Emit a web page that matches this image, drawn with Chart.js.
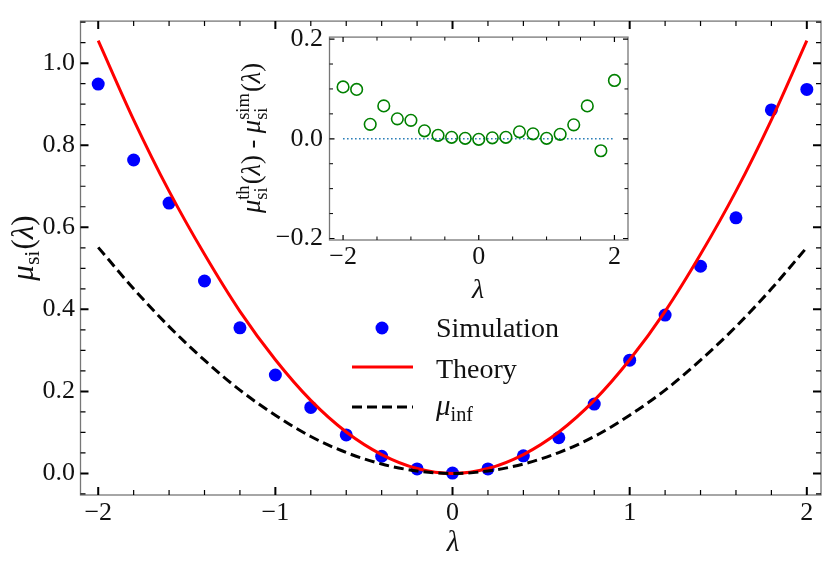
<!DOCTYPE html>
<html>
<head>
<meta charset="utf-8">
<script src="https://cdn.jsdelivr.net/npm/chart.js@4.4.0/dist/chart.umd.min.js"></script>
<style>
  body { margin: 0; background: #fff; }
  #wrap { position: relative; width: 830px; height: 564px; }
  #main { position: absolute; left: 0; top: 0; }
  #inset { position: absolute; left: 230px; top: 15px; }
</style>
</head>
<body>
<div id="wrap">
  <canvas id="main" width="830" height="564"></canvas>
  <canvas id="inset" width="410" height="290"></canvas>
</div>
<script>
// lambda values shared by every series
const lambdas = [-2, -1.8, -1.6, -1.4, -1.2, -1, -0.8, -0.6, -0.4, -0.2, 0, 0.2, 0.4, 0.6, 0.8, 1, 1.2, 1.4, 1.6, 1.8, 2];
// main plot series
const simulation = [0.949, 0.764, 0.659, 0.469, 0.355, 0.240, 0.161, 0.094, 0.042, 0.011, 0.001, 0.011, 0.043, 0.087, 0.169, 0.276, 0.386, 0.505, 0.623, 0.886, 0.936];
const theory = [1.055, 0.862, 0.688, 0.534, 0.395, 0.277, 0.178, 0.101, 0.046, 0.012, 0.000, 0.012, 0.046, 0.101, 0.178, 0.277, 0.395, 0.534, 0.688, 0.862, 1.055];
const muInf = [0.551, 0.450, 0.358, 0.276, 0.203, 0.142, 0.090, 0.051, 0.023, 0.006, 0.000, 0.006, 0.023, 0.051, 0.090, 0.142, 0.203, 0.276, 0.358, 0.450, 0.551];
// inset: theory minus simulation
const difference = [0.104, 0.099, 0.029, 0.066, 0.040, 0.037, 0.016, 0.007, 0.003, 0.001, -0.001, 0.002, 0.003, 0.014, 0.010, 0.001, 0.009, 0.028, 0.066, -0.024, 0.117];
const zeroLineX = [-2, 2];
const zeroLineY = [0, 0];

// tick values
const mainXTicks = [-2, -1, 0, 1, 2];
const mainYTicks = [0, 0.2, 0.4, 0.6, 0.8, 1.0];
const insetXTicks = [-2, 0, 2];
const insetYTicks = [-0.2, 0, 0.2];

const SERIF = '"Liberation Serif", "DejaVu Serif", serif';

function fmtNum(v, digits) {
  const s = Math.abs(v).toFixed(digits);
  return v < -1e-9 ? '\u2212' + s : s;
}

function minorTicks(step, lo, hi, majors) {
  const out = [];
  for (let i = Math.ceil(lo / step - 1e-6); i * step <= hi + 1e-9; i++) {
    const v = +(i * step).toFixed(6);
    if (!majors.some(m => Math.abs(m - v) < 1e-6)) out.push(v);
  }
  return out;
}

// draws text made of pieces: [text, 'i'|'r'] or [sub, 'sub', sup]
function piece(ctx, p, size, draw, x, y) {
  if (p[1] === 'sub') {
    const s = size * 0.7;
    ctx.font = s + 'px ' + SERIF;
    let w = ctx.measureText(p[0]).width;
    if (draw) ctx.fillText(p[0], x, y + size * (p[2] ? 0.26 : 0.2));
    if (p[2]) {
      w = Math.max(w, ctx.measureText(p[2]).width);
      if (draw) ctx.fillText(p[2], x, y - size * 0.42);
    }
    return w + size * 0.04;
  }
  ctx.font = (p[1] === 'i' ? 'italic ' : '') + size + 'px ' + SERIF;
  if (draw) ctx.fillText(p[0], x, y);
  return ctx.measureText(p[0]).width;
}

function drawMath(ctx, parts, x, y, size, align) {
  let w = 0;
  parts.forEach(p => { w += piece(ctx, p, size, false); });
  let cx = align === 'center' ? x - w / 2 : x;
  ctx.textAlign = 'left';
  ctx.textBaseline = 'alphabetic';
  parts.forEach(p => { cx += piece(ctx, p, size, true, cx, y); });
}

// frame + inward ticks on all four sides
const frameTicks = {
  id: 'frameTicks',
  beforeDraw(chart, args, opts) {
    const a = chart.chartArea, ctx = chart.ctx;
    ctx.save();
    ctx.fillStyle = '#fff';
    ctx.fillRect(a.left, a.top, a.right - a.left, a.bottom - a.top);
    ctx.restore();
  },
  afterDraw(chart, args, opts) {
    const a = chart.chartArea, ctx = chart.ctx;
    const x = chart.scales.x, y = chart.scales.y;
    ctx.save();
    ctx.strokeStyle = '#777';
    ctx.lineWidth = 1.3;
    ctx.strokeRect(a.left, a.top, a.right - a.left, a.bottom - a.top);
    ctx.strokeStyle = '#000';
    const xt = (vals, len, w) => {
      ctx.lineWidth = w;
      vals.forEach(v => {
        const px = x.getPixelForValue(v);
        ctx.beginPath();
        ctx.moveTo(px, a.bottom); ctx.lineTo(px, a.bottom - len);
        ctx.moveTo(px, a.top); ctx.lineTo(px, a.top + len);
        ctx.stroke();
      });
    };
    const yt = (vals, len, w) => {
      ctx.lineWidth = w;
      vals.forEach(v => {
        const py = y.getPixelForValue(v);
        ctx.beginPath();
        ctx.moveTo(a.left, py); ctx.lineTo(a.left + len, py);
        ctx.moveTo(a.right, py); ctx.lineTo(a.right - len, py);
        ctx.stroke();
      });
    };
    xt(opts.xMajor, opts.major, opts.majorW);
    xt(opts.xMinor, opts.minor, opts.minorW);
    yt(opts.yMajor, opts.major, opts.majorW);
    yt(opts.yMinor, opts.minor, opts.minorW);
    ctx.restore();
  }
};

// axis titles and legend of the main chart
const mainDecor = {
  id: 'mainDecor',
  afterDraw(chart) {
    const ctx = chart.ctx;
    ctx.save();
    ctx.fillStyle = '#111';
    // y title
    ctx.save();
    ctx.translate(33, 248);
    ctx.rotate(-Math.PI / 2);
    drawMath(ctx, [['μ', 'i'], ['si', 'sub'], ['(', 'r'], ['λ', 'i'], [')', 'r']], 0, 0, 31, 'center');
    ctx.restore();
    // x title
    drawMath(ctx, [['λ', 'i']], 453, 551, 29, 'center');

    // legend
    ctx.fillStyle = '#0000ff';
    ctx.beginPath();
    ctx.arc(382, 328, 6.5, 0, Math.PI * 2);
    ctx.fill();
    ctx.strokeStyle = '#ff0000';
    ctx.lineWidth = 3;
    ctx.beginPath();
    ctx.moveTo(352, 367); ctx.lineTo(413, 367);
    ctx.stroke();
    ctx.strokeStyle = '#000';
    ctx.setLineDash([10, 5]);
    ctx.beginPath();
    ctx.moveTo(352, 407); ctx.lineTo(413, 407);
    ctx.stroke();
    ctx.setLineDash([]);
    ctx.fillStyle = '#111';
    drawMath(ctx, [['Simulation', 'r']], 436, 337, 28, 'left');
    drawMath(ctx, [['Theory', 'r']], 436, 378, 28, 'left');
    drawMath(ctx, [['μ', 'i'], ['inf', 'sub']], 436, 415, 29, 'left');
    ctx.restore();
  }
};

const insetDecor = {
  id: 'insetDecor',
  afterDraw(chart) {
    const ctx = chart.ctx;
    ctx.save();
    ctx.fillStyle = '#111';
    ctx.save();
    ctx.translate(30, 123);
    ctx.rotate(-Math.PI / 2);
    drawMath(ctx, [['μ', 'i'], ['si', 'sub', 'th'], ['(', 'r'], ['λ', 'i'], [')', 'r'], [' - ', 'r'],
                   ['μ', 'i'], ['si', 'sub', 'sim'], ['(', 'r'], ['λ', 'i'], [')', 'r']], 0, 0, 26.5, 'center');
    ctx.restore();
    drawMath(ctx, [['λ', 'i']], 248, 283, 28, 'center');
    ctx.restore();
  }
};

function pts(xs, ys) {
  return xs.map((v, i) => ({ x: v, y: ys[i] }));
}

function tickFont(size) {
  return { family: SERIF, size: size };
}

new Chart(document.getElementById('main'), {
  type: 'line',
  data: {
    datasets: [
      {
        label: 'mu_inf',
        data: pts(lambdas, muInf),
        borderColor: '#000',
        borderWidth: 3,
        borderDash: [10, 5],
        pointRadius: 0,
        cubicInterpolationMode: 'monotone',
        order: 1
      },
      {
        label: 'Theory',
        data: pts(lambdas, theory),
        borderColor: '#ff0000',
        borderWidth: 3,
        pointRadius: 0,
        cubicInterpolationMode: 'monotone',
        order: 2
      },
      {
        label: 'Simulation',
        data: pts(lambdas, simulation),
        showLine: false,
        pointRadius: 6.5,
        pointBackgroundColor: '#0000ff',
        pointBorderWidth: 0,
        order: 3
      }
    ]
  },
  options: {
    responsive: false,
    animation: false,
    layout: { padding: { left: 0, right: 9, top: 5, bottom: 0 } },
    plugins: {
      legend: { display: false },
      tooltip: { enabled: false },
      frameTicks: {
        xMajor: mainXTicks, xMinor: minorTicks(0.2, -2.1, 2.08, mainXTicks),
        yMajor: mainYTicks, yMinor: minorTicks(0.05, -0.05, 1.1, mainYTicks),
        major: 8, majorW: 2, minor: 5, minorW: 1.2
      }
    },
    scales: {
      x: {
        type: 'linear',
        min: -2.10,
        max: 2.08,
        grid: { display: false, drawTicks: false },
        border: { display: false },
        afterBuildTicks: s => { s.ticks = mainXTicks.map(v => ({ value: v })); },
        afterFit: s => { s.height = 69; },
        ticks: { font: tickFont(26), color: '#111', padding: 3, maxRotation: 0, callback: v => fmtNum(v, 0) }
      },
      y: {
        min: -0.0525,
        max: 1.1025,
        grid: { display: false, drawTicks: false },
        border: { display: false },
        afterBuildTicks: s => { s.ticks = mainYTicks.map(v => ({ value: v })); },
        afterFit: s => { s.width = 80.5; },
        ticks: { font: tickFont(26), color: '#111', padding: 5.5, callback: v => fmtNum(v, 1) }
      }
    }
  },
  plugins: [frameTicks, mainDecor]
});

new Chart(document.getElementById('inset'), {
  type: 'line',
  data: {
    datasets: [
      {
        label: 'difference',
        data: pts(lambdas, difference),
        showLine: false,
        pointRadius: 5.8,
        pointBackgroundColor: 'rgba(0,0,0,0)',
        pointBorderColor: '#008000',
        pointBorderWidth: 1.6,
        order: 1
      },
      {
        label: 'zero',
        data: pts(zeroLineX, zeroLineY),
        borderColor: '#1f77b4',
        borderWidth: 1.5,
        borderDash: [1.5, 2.5],
        pointRadius: 0,
        order: 2
      }
    ]
  },
  options: {
    responsive: false,
    animation: false,
    layout: { padding: { left: 0, right: 12, top: 20, bottom: 0 } },
    plugins: {
      legend: { display: false },
      tooltip: { enabled: false },
      frameTicks: {
        xMajor: insetXTicks, xMinor: minorTicks(0.5, -2.2, 2.2, insetXTicks),
        yMajor: insetYTicks, yMinor: minorTicks(0.05, -0.2, 0.2, insetYTicks),
        major: 5, majorW: 1.2, minor: 3.5, minorW: 1
      }
    },
    scales: {
      x: {
        type: 'linear',
        min: -2.2,
        max: 2.2,
        grid: { display: false, drawTicks: false },
        border: { display: false },
        afterBuildTicks: s => { s.ticks = insetXTicks.map(v => ({ value: v })); },
        afterFit: s => { s.height = 65; },
        ticks: { font: tickFont(26), color: '#111', padding: 2, maxRotation: 0, callback: v => fmtNum(v, 0) }
      },
      y: {
        min: -0.203,
        max: 0.204,
        grid: { display: false, drawTicks: false },
        border: { display: false },
        afterBuildTicks: s => { s.ticks = insetYTicks.map(v => ({ value: v })); },
        afterFit: s => { s.width = 99.5; },
        ticks: { font: tickFont(26), color: '#111', padding: 6.5, callback: v => fmtNum(v, 1) }
      }
    }
  },
  plugins: [frameTicks, insetDecor]
});
</script>
</body>
</html>
